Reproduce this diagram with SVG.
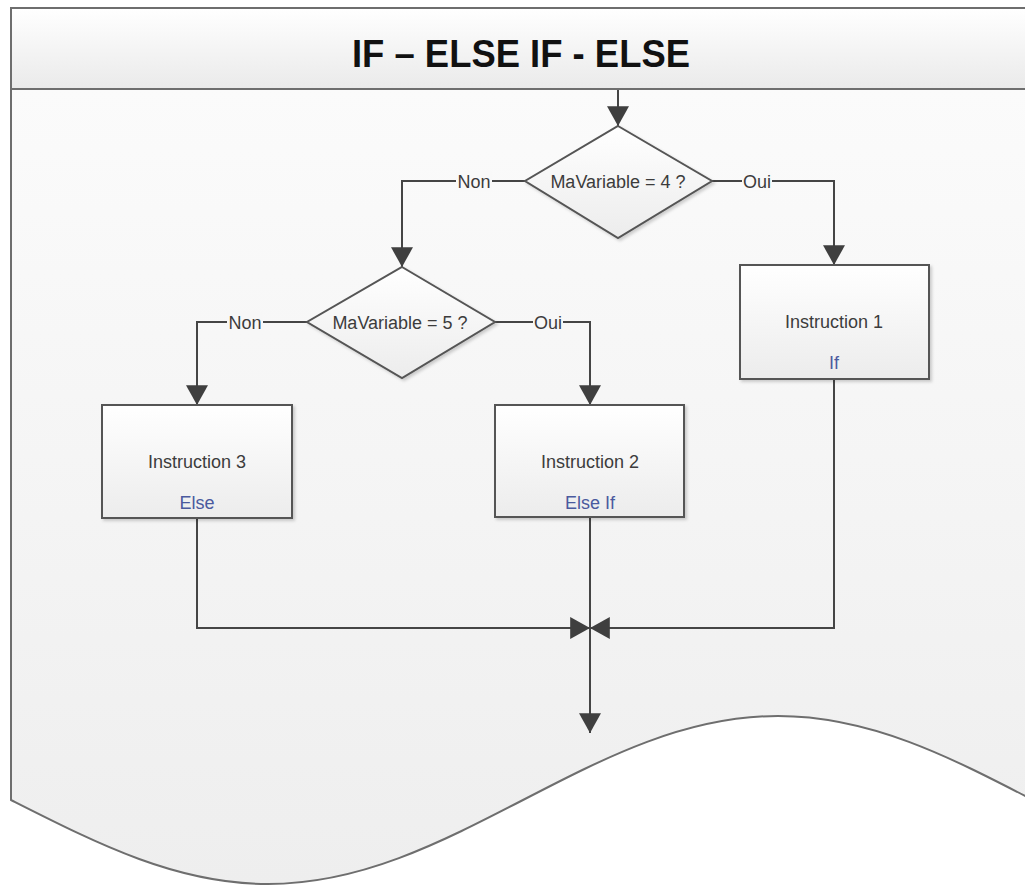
<svg xmlns="http://www.w3.org/2000/svg" width="1025" height="885" viewBox="0 0 1025 885">
  <defs>
    <linearGradient id="bodyGrad" x1="0" y1="0" x2="0" y2="1">
      <stop offset="0" stop-color="#fbfbfb"/>
      <stop offset="1" stop-color="#eeeeee"/>
    </linearGradient>
    <linearGradient id="titleGrad" x1="0" y1="0" x2="0" y2="1">
      <stop offset="0" stop-color="#ffffff"/>
      <stop offset="1" stop-color="#eaeaea"/>
    </linearGradient>
    <linearGradient id="nodeGrad" x1="0" y1="0" x2="0" y2="1">
      <stop offset="0" stop-color="#ffffff"/>
      <stop offset="1" stop-color="#ececec"/>
    </linearGradient>
    <filter id="shadow" x="-10%" y="-10%" width="125%" height="130%">
      <feDropShadow dx="2" dy="2" stdDeviation="1.5" flood-color="#000000" flood-opacity="0.18"/>
    </filter>
    <marker id="arrow" markerUnits="userSpaceOnUse" markerWidth="20" markerHeight="22" viewBox="0 0 18 20" refX="18" refY="10" orient="auto">
      <path d="M0,0 L18,10 L0,20 Z" fill="#3f3f3f"/>
    </marker>
  </defs>
  <style>
    .frame { stroke: #6e6e6e; stroke-width: 2; }
    .node { fill: url(#nodeGrad); stroke: #555555; stroke-width: 2; filter: url(#shadow); }
    .conn { fill: none; stroke: #454545; stroke-width: 2; }
    .arr { marker-end: url(#arrow); }
    .txt { font-family: "Liberation Sans", Arial, sans-serif; font-size: 18px; fill: #3c3c3c; text-anchor: middle; }
    .sub { font-family: "Liberation Sans", Arial, sans-serif; font-size: 18px; fill: #4a5a9e; text-anchor: middle; }
    .lbl { font-family: "Liberation Sans", Arial, sans-serif; font-size: 18px; fill: #3c3c3c; text-anchor: middle; }
    .title { font-family: "Liberation Sans", Arial, sans-serif; font-size: 39px; font-weight: bold; fill: #111111; text-anchor: middle; }
  </style>

  <g id="frame">
    <path class="frame" fill="url(#bodyGrad)" d="M 11 89 H 1040 V 800 L 1033 800 C 949.8 757 870.3 716 778 716 C 685.7 716 606.2 757 523 800 C 439.8 843 360.3 884 268 884 C 175.7 884 96.2 843 11 800 Z"/>
    <rect class="frame" fill="url(#titleGrad)" x="11" y="8" width="1030" height="81"/>
    <text class="title" x="521" y="67" textLength="338" lengthAdjust="spacingAndGlyphs">IF – ELSE IF - ELSE</text>
  </g>

  <g id="connectors">
    <path class="conn arr" d="M 618 90 V 126"/>
    <path class="conn arr" d="M 525 181 H 402 V 267"/>
    <path class="conn arr" d="M 712 181 H 834 V 265"/>
    <path class="conn arr" d="M 307 322 H 197 V 405"/>
    <path class="conn arr" d="M 495 322 H 590 V 405"/>
    <path class="conn arr" d="M 197 518 V 628 H 590"/>
    <path class="conn arr" d="M 834 379 V 628 H 590"/>
    <path class="conn arr" d="M 590 517 V 733"/>
    <rect x="456" y="171" width="36" height="20" fill="#f9f9f9"/>
    <text class="lbl" x="474" y="188">Non</text>
    <rect x="742" y="171" width="30" height="20" fill="#f9f9f9"/>
    <text class="lbl" x="757" y="188">Oui</text>
    <rect x="227" y="312" width="36" height="20" fill="#f7f7f7"/>
    <text class="lbl" x="245" y="329">Non</text>
    <rect x="533" y="312" width="30" height="20" fill="#f7f7f7"/>
    <text class="lbl" x="548" y="329">Oui</text>
  </g>

  <g id="decision1">
    <polygon class="node" points="618,126 712,181 618,238 525,181"/>
    <text class="txt" x="618" y="188">MaVariable = 4 ?</text>
  </g>

  <g id="decision2">
    <polygon class="node" points="402,267 495,322 402,378 307,322"/>
    <text class="txt" x="400" y="329">MaVariable = 5 ?</text>
  </g>

  <g id="instruction1">
    <rect class="node" x="740" y="265" width="189" height="114"/>
    <text class="txt" x="834" y="328">Instruction 1</text>
    <text class="sub" x="834" y="369">If</text>
  </g>

  <g id="instruction2">
    <rect class="node" x="495" y="405" width="189" height="112"/>
    <text class="txt" x="590" y="468">Instruction 2</text>
    <text class="sub" x="590" y="509">Else If</text>
  </g>

  <g id="instruction3">
    <rect class="node" x="102" y="405" width="190" height="113"/>
    <text class="txt" x="197" y="468">Instruction 3</text>
    <text class="sub" x="197" y="509">Else</text>
  </g>
</svg>
